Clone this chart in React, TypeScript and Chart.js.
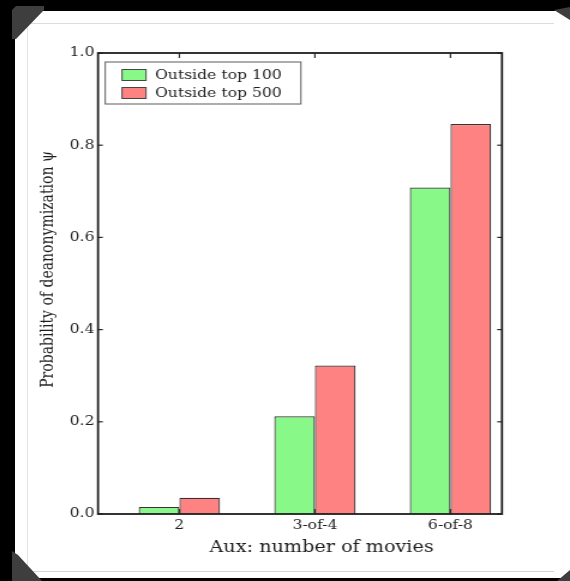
import React, { useEffect, useRef } from "react";
import { Chart, registerables } from "chart.js";

Chart.register(...registerables);

// ---- data ----
const categories = ["2", "3-of-4", "6-of-8"];
const seriesLabels = ["Outside top 100", "Outside top 500"];
const outsideTop100 = [0.015, 0.212, 0.708];
const outsideTop500 = [0.035, 0.322, 0.846];
const yTickValues = [0, 0.2, 0.4, 0.6, 0.8, 1.0];
const xTitle = "Aux: number of movies";
const yTitle = "Probability of deanonymization \u03c8";

const FONT = '"DejaVu Serif", serif';
const TEXT = "#1e1e1e";

// logical canvas is stretched horizontally to match the reference aspect
const LOGICAL_W = 475;
const LOGICAL_H = 581;

const mplPlugin = {
  id: "mplFrame",
  afterDraw(chart: any) {
    const { ctx, chartArea: a, scales } = chart;
    const xs = scales.x;
    const ys = scales.y;
    ctx.save();
    const line = (x1: number, y1: number, x2: number, y2: number) => {
      ctx.beginPath();
      ctx.moveTo(x1, y1);
      ctx.lineTo(x2, y2);
      ctx.stroke();
    };
    // inward ticks on all sides
    ctx.strokeStyle = "#2a2a2a";
    ctx.lineWidth = 1.2;
    ys.ticks.forEach((t: any) => {
      const py = ys.getPixelForValue(t.value);
      line(a.left, py, a.left + 4, py);
      line(a.right, py, a.right - 4, py);
    });
    xs.ticks.forEach((t: any) => {
      const px = xs.getPixelForValue(t.value);
      line(px, a.bottom, px, a.bottom - 5);
      line(px, a.top, px, a.top + 5);
    });
    // frame
    ctx.strokeStyle = "#1e1e1e";
    ctx.lineWidth = 1.8;
    ctx.strokeRect(a.left, a.top, a.right - a.left, a.bottom - a.top);

    // legend
    ctx.font = `13px ${FONT}`;
    const ds = chart.data.datasets;
    const textW = Math.max(...ds.map((d: any) => ctx.measureText(d.label).width));
    const bx = a.left + 6;
    const by = a.top + 9;
    const bw = 41.5 + textW + 16;
    const bh = 42;
    ctx.fillStyle = "#fff";
    ctx.fillRect(bx, by, bw, bh);
    ctx.strokeStyle = "#6a6a6a";
    ctx.lineWidth = 1.1;
    ctx.strokeRect(bx, by, bw, bh);
    ds.forEach((d: any, i: number) => {
      const cy = by + 13 + i * 18;
      ctx.fillStyle = d.backgroundColor;
      ctx.fillRect(bx + 14, cy - 5.5, 20, 11);
      ctx.strokeStyle = "#444";
      ctx.lineWidth = 1;
      ctx.strokeRect(bx + 14, cy - 5.5, 20, 11);
      ctx.fillStyle = TEXT;
      ctx.textAlign = "left";
      ctx.textBaseline = "middle";
      ctx.fillText(d.label, bx + 41.5, cy + 0.5);
    });

    // axis titles
    ctx.fillStyle = TEXT;
    ctx.font = `16px ${FONT}`;
    ctx.textAlign = "center";
    ctx.textBaseline = "middle";
    ctx.fillText(xTitle, (a.left + a.right) / 2 + 18, a.bottom + 34);

    ctx.font = `14px ${FONT}`;
    ctx.translate(a.left - 41.5, (a.top + a.bottom) / 2 - 14);
    ctx.rotate(-Math.PI / 2);
    ctx.fillText(yTitle, 0, 0);
    ctx.restore();
  },
};

export default function App() {
  const ref = useRef<HTMLCanvasElement | null>(null);

  useEffect(() => {
    if (!ref.current) return;
    const chart = new Chart(ref.current, {
      type: "bar",
      data: {
        datasets: [
          {
            label: seriesLabels[0],
            data: outsideTop100.map((v, i) => ({ x: i, y: v })),
            backgroundColor: "#88f888",
            borderColor: "#333",
            borderWidth: 1.2,
          },
          {
            label: seriesLabels[1],
            data: outsideTop500.map((v, i) => ({ x: i, y: v })),
            backgroundColor: "#ff8282",
            borderColor: "#333",
            borderWidth: 1.2,
          },
        ],
      },
      options: {
        responsive: false,
        animation: false,
        devicePixelRatio: 1,
        categoryPercentage: 0.6,
        barPercentage: 1.0,
        layout: { padding: { left: 0, top: 53, right: 56.7, bottom: 0 } },
        plugins: {
          legend: { display: false },
          tooltip: { enabled: false },
        },
        scales: {
          x: {
            type: "linear",
            offset: false,
            min: -0.6,
            max: 2.38,
            grid: { display: false, drawTicks: false, offset: false },
            border: { display: false },
            afterBuildTicks: (scale: any) => {
              scale.ticks = categories.map((_, i) => ({ value: i }));
            },
            afterFit: (scale: any) => {
              scale.height = 67;
            },
            ticks: {
              autoSkip: false,
              maxRotation: 0,
              padding: 4,
              color: TEXT,
              font: { family: FONT, size: 13 },
              callback: (v: any) => categories[Math.round(Number(v))],
            },
          },
          y: {
            type: "linear",
            min: 0,
            max: 1,
            grid: { display: false, drawTicks: false },
            border: { display: false },
            afterBuildTicks: (scale: any) => {
              scale.ticks = yTickValues.map((v) => ({ value: v }));
            },
            afterFit: (scale: any) => {
              scale.width = 81.67;
            },
            ticks: {
              padding: 3,
              color: TEXT,
              font: { family: FONT, size: 13 },
              callback: (v: any) => Number(v).toFixed(1),
            },
          },
        },
      },
      plugins: [mplPlugin],
    });
    return () => chart.destroy();
  }, []);

  const corner = (style: React.CSSProperties, poly: string) => (
    <div
      style={{
        position: "absolute",
        background: "#3e3e3e",
        clipPath: `polygon(${poly})`,
        ...style,
      }}
    />
  );

  return (
    <div
      style={{
        position: "fixed",
        left: 0,
        top: 0,
        width: 570,
        height: 581,
        background: "#000",
        overflow: "hidden",
      }}
    >
      <div
        style={{
          position: "absolute",
          left: 15,
          top: 11,
          width: 555,
          height: 567,
          background: "#fff",
        }}
      />
      <div
        style={{
          position: "absolute",
          left: 27,
          top: 23,
          width: 526,
          height: 547,
          borderTop: "1px solid #dcdcdc",
          borderLeft: "1px solid #e4e4e4",
          borderBottom: "1px solid #d4d4d4",
        }}
      />
      {corner({ left: 12, top: 6, width: 32, height: 33 }, "0 4px, 4px 0, 32px 0, 32px 4px, 4px 33px, 0 33px")}
      {corner({ left: 554, top: 7, width: 16, height: 13 }, "0 3px, 16px 0, 16px 13px")}
      {corner({ left: 12, top: 551, width: 30, height: 30 }, "0 0, 6px 4px, 30px 30px, 0 30px")}
      {corner({ left: 557, top: 570, width: 13, height: 11 }, "13px 0, 13px 11px, 0 11px")}
      <canvas
        ref={ref}
        width={LOGICAL_W}
        height={LOGICAL_H}
        style={{
          position: "absolute",
          left: 0,
          top: 0,
          width: "570px",
          height: "581px",
          filter: "blur(0.5px)",
        }}
      />
    </div>
  );
}
